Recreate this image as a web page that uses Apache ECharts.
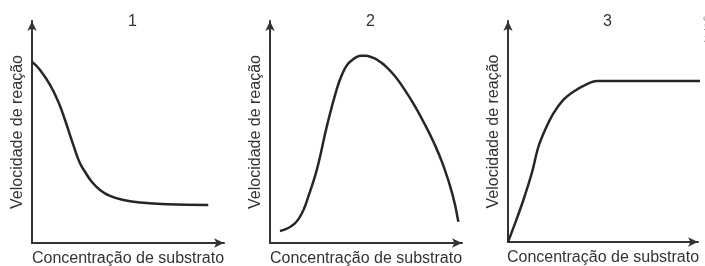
<!DOCTYPE html>
<html>
<head>
<meta charset="utf-8">
<script src="https://cdn.jsdelivr.net/npm/echarts@6/dist/echarts.min.js"></script>
<style>
  html, body { margin: 0; padding: 0; background: #fff; }
  #chart { width: 705px; height: 266px; }
</style>
</head>
<body>
<div id="chart"></div>
<script>
// data (0-100 on both axes)
var panelTitles = ['1', '2', '3'];
var xName = 'Concentração de substrato';
var yName = 'Velocidade de reação';

var conc1 = [0, 4.2, 9.4, 13.7, 17.2, 19.8, 22.4, 25, 27.6, 31.1, 35.4, 40.6, 47.6, 56.3, 70.2, 91.8];
var rate1 = [81.7, 77.9, 71.2, 63.6, 55.4, 48.6, 41.9, 35.9, 32.1, 27.6, 23.9, 21.2, 19.4, 18.2, 17.4, 17.1];

var conc2 = [5.2, 7.5, 10, 12.5, 15, 17.5, 20, 22.5, 25, 30, 35, 37.5, 40, 42.5, 45, 47.5, 50,
             52.5, 55, 57.5, 60, 65, 70, 75, 80, 85, 90, 95, 98.1];
var rate2 = [5.4, 6, 7, 8.5, 11, 15, 21, 27.5, 35, 54, 70, 75.8, 80, 82.2, 83.7, 84.35, 84.3,
             83.8, 82.9, 81.5, 79.8, 75.2, 69.2, 62.3, 54.5, 45.8, 35.5, 22, 9.6];

var conc3 = [0, 4.4, 8.1, 12.5, 16, 19.5, 23.9, 29.1, 34.4, 40.5, 46.7, 103.7];
var rate3 = [0, 10, 19, 31.1, 43.1, 50.7, 58.2, 64.3, 68, 71, 72.9, 72.9];

var curves = [[conc1, rate1], [conc2, rate2], [conc3, rate3]];
var smoothness = [0.45, 0.5, 0.35];

function pairs(xs, ys) {
    return xs.map(function (x, i) { return [x, ys[i]]; });
}

var font = '"Liberation Sans", Arial, sans-serif';
var ink = '#333';

var grids = [
    { left: 32, top: 21, width: 192, height: 222 },
    { left: 270, top: 21, width: 192, height: 222 },
    { left: 508, top: 21, width: 190, height: 221 }
];
grids.forEach(function (g) {
    g.containLabel = false;
    g.outerBoundsMode = 'none';
});

var axisLine = {
    show: true,
    symbol: ['none', 'arrow'],
    symbolSize: [7, 10],
    lineStyle: { color: ink, width: 2 }
};

var xAxes = [], yAxes = [], series = [], titles = [];
grids.forEach(function (g, i) {
    xAxes.push({
        gridIndex: i, type: 'value', min: 0, max: 100,
        name: xName, nameLocation: 'middle', nameGap: 8,
        nameTextStyle: { fontFamily: font, fontSize: 16, color: ink, verticalAlign: 'top' },
        axisLine: axisLine, axisTick: { show: false }, axisLabel: { show: false },
        splitLine: { show: false }
    });
    yAxes.push({
        gridIndex: i, type: 'value', min: 0, max: 100,
        name: yName, nameLocation: 'middle', nameGap: 6, nameRotate: 90,
        nameTextStyle: { fontFamily: font, fontSize: 16, color: ink },
        axisLine: axisLine, axisTick: { show: false }, axisLabel: { show: false },
        splitLine: { show: false }
    });
    series.push({
        type: 'line', xAxisIndex: i, yAxisIndex: i,
        data: pairs(curves[i][0], curves[i][1]),
        smooth: smoothness[i], showSymbol: false, clip: false,
        lineStyle: { color: '#262626', width: 2.5 }
    });
    titles.push({
        text: panelTitles[i],
        left: g.left + g.width / 2 - 5, top: 9,
        textStyle: { fontFamily: font, fontSize: 16, fontWeight: 'normal', color: ink }
    });
});

var chart = echarts.init(document.getElementById('chart'));
chart.setOption({
    animation: false,
    title: titles,
    grid: grids,
    xAxis: xAxes,
    yAxis: yAxes,
    series: series,
    graphic: [{
        type: 'text', x: 703, y: 42, rotation: Math.PI / 2,
        style: { text: 'Interbits®', fontFamily: font, fontSize: 6, fill: '#444' }
    }]
});
</script>
</body>
</html>
